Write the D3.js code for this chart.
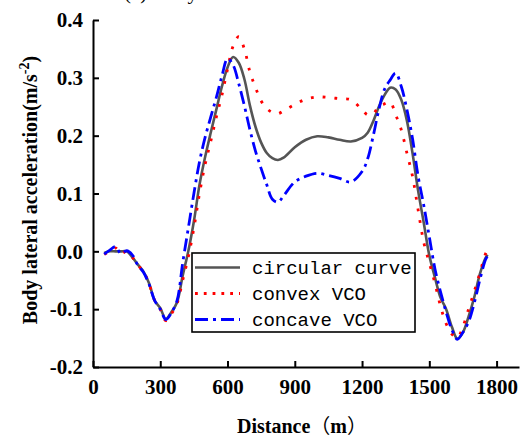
<!DOCTYPE html>
<html>
<head>
<meta charset="utf-8">
<script src="https://cdn.jsdelivr.net/npm/d3@7"></script>
<style>
  body { margin: 0; background: #fff; }
  svg { display: block; }
</style>
</head>
<body>
<svg></svg>
<script>
// Data
const distance = [50, 75, 100, 125, 150, 175, 200, 225, 250, 275, 300, 325, 350, 375, 400, 425, 450, 475, 500, 525, 550, 575, 600, 625, 650, 675, 700, 725, 750, 775, 800, 825, 850, 900, 950, 1000, 1050, 1100, 1150, 1200, 1225, 1250, 1275, 1300, 1325, 1350, 1375, 1400, 1425, 1450, 1475, 1500, 1525, 1550, 1575, 1600, 1625, 1650, 1675, 1700, 1725, 1750, 1760];

const circularCurve = [-0.003, 0.0, 0.0, 0.0, 0.0, -0.01, -0.023, -0.035, -0.055, -0.085, -0.098, -0.117, -0.105, -0.088, -0.042, 0.0, 0.052, 0.115, 0.163, 0.205, 0.245, 0.285, 0.318, 0.336, 0.326, 0.298, 0.252, 0.215, 0.188, 0.17, 0.161, 0.158, 0.162, 0.18, 0.193, 0.199, 0.197, 0.193, 0.19, 0.196, 0.205, 0.225, 0.25, 0.27, 0.283, 0.28, 0.262, 0.226, 0.17, 0.105, 0.05, -0.007, -0.045, -0.08, -0.1, -0.13, -0.151, -0.14, -0.113, -0.08, -0.04, -0.012, -0.006];

const convexVCO = [-0.005, 0.0, 0.006, -0.004, 0.0, -0.01, -0.024, -0.035, -0.056, -0.085, -0.1, -0.12, -0.108, -0.09, -0.05, -0.01, 0.04, 0.1, 0.15, 0.19, 0.232, 0.27, 0.315, 0.355, 0.371, 0.35, 0.31, 0.283, 0.26, 0.247, 0.24, 0.238, 0.243, 0.254, 0.263, 0.267, 0.266, 0.264, 0.262, 0.245, 0.236, 0.238, 0.251, 0.255, 0.258, 0.236, 0.21, 0.17, 0.13, 0.072, 0.016, -0.02, -0.055, -0.095, -0.125, -0.143, -0.149, -0.13, -0.1, -0.07, -0.038, -0.005, 0.003];

const concaveVCO = [-0.005, 0.002, 0.008, -0.004, 0.001, -0.006, -0.024, -0.036, -0.057, -0.085, -0.1, -0.118, -0.106, -0.085, -0.02, 0.04, 0.1, 0.155, 0.197, 0.232, 0.266, 0.303, 0.333, 0.322, 0.29, 0.252, 0.21, 0.173, 0.143, 0.115, 0.09, 0.085, 0.096, 0.12, 0.13, 0.135, 0.131, 0.126, 0.12, 0.138, 0.16, 0.2, 0.245, 0.28, 0.296, 0.308, 0.285, 0.245, 0.195, 0.13, 0.08, 0.025, -0.03, -0.07, -0.105, -0.135, -0.152, -0.14, -0.122, -0.09, -0.05, -0.015, -0.008];

const xTicks = [0, 300, 600, 900, 1200, 1500, 1800];
const yTicks = [-0.2, -0.1, 0.0, 0.1, 0.2, 0.3, 0.4];
const seriesNames = ["circular curve", "convex VCO", "concave VCO"];

// Setting the dimensions and margins of the graph
const margin = { top: 20, right: 12, bottom: 71, left: 93 },
  width = 531 - margin.left - margin.right,
  height = 438 - margin.top - margin.bottom;

const serif = "'Liberation Serif', 'Times New Roman', serif";

const root = d3.select("svg").attr("width", 531).attr("height", 438);

// Panel title, mostly cut off at the top edge (as in the reference)
root
  .append("text")
  .attr("x", 124)
  .attr("y", -1)
  .style("font-family", serif)
  .style("font-size", "21px")
  .text("(c) Body lateral acceleration");

const svg = root
  .append("g")
  .attr("transform", `translate(${margin.left},${margin.top})`);

const x = d3.scaleLinear().domain([0, 1900]).range([0, width]);
const y = d3.scaleLinear().domain([-0.2, 0.4]).range([height, 0]);

// X axis (ticks point inward)
const xAxis = svg
  .append("g")
  .attr("transform", `translate(0,${height})`)
  .call(d3.axisBottom(x).tickValues(xTicks).tickSize(-6).tickPadding(12).tickSizeOuter(0).tickFormat(d3.format("d")));

// Y axis
const yAxis = svg
  .append("g")
  .call(d3.axisLeft(y).tickValues(yTicks).tickSize(-6).tickPadding(10).tickSizeOuter(0).tickFormat((d) => d.toFixed(1)));

[xAxis, yAxis].forEach((a) => {
  a.select(".domain").attr("stroke", "#000").attr("stroke-width", 2);
  a.selectAll(".tick line").attr("stroke", "#000").attr("stroke-width", 2);
  a.selectAll(".tick text")
    .attr("fill", "#000")
    .style("font-family", serif)
    .style("font-size", "21px")
    .style("font-weight", "bold");
});

// Lines
const styles = [
  { values: circularCurve, color: "#555555", width: 2.6, dash: null },
  { values: convexVCO, color: "#ff0000", width: 2.8, dash: "2.8,9" },
  { values: concaveVCO, color: "#0000ff", width: 2.8, dash: "13,5,3,5" },
];

const line = d3
  .line()
  .x((d) => x(d[0]))
  .y((d) => y(d[1]))
  .curve(d3.curveCatmullRom.alpha(0.5));

styles.forEach((s) => {
  svg
    .append("path")
    .datum(distance.map((d, i) => [d, s.values[i]]))
    .attr("fill", "none")
    .attr("stroke", s.color)
    .attr("stroke-width", s.width)
    .attr("stroke-dasharray", s.dash)
    .attr("d", line);
});

// Legend
const legend = svg.append("g").attr("transform", `translate(${192 - margin.left},${253 - margin.top})`);
legend
  .append("rect")
  .attr("width", 223)
  .attr("height", 79)
  .attr("fill", "#fff")
  .attr("stroke", "#000")
  .attr("stroke-width", 1.6);

const legendDash = [null, "2.8,6", "13,5,3,5"];
seriesNames.forEach((name, i) => {
  const row = legend.append("g").attr("transform", `translate(0,${14.5 + i * 26})`);
  row
    .append("line")
    .attr("x1", 3)
    .attr("x2", 48)
    .attr("stroke", styles[i].color)
    .attr("stroke-width", styles[i].width)
    .attr("stroke-dasharray", legendDash[i]);
  row
    .append("text")
    .attr("x", 60)
    .attr("y", 6.5)
    .style("font-family", "'Liberation Mono', monospace")
    .style("font-size", "19px")
    .text(name);
});

// Axis titles
const xLabel = root
  .append("text")
  .attr("x", 302)
  .attr("y", 433)
  .attr("text-anchor", "middle")
  .style("font-family", serif)
  .style("font-weight", "bold")
  .style("font-size", "20px");
xLabel.append("tspan").text("Distance");
xLabel.append("tspan").style("font-family", "'Noto Sans CJK SC', sans-serif").style("font-weight", "normal").text("（");
xLabel.append("tspan").text("m");
xLabel.append("tspan").style("font-family", "'Noto Sans CJK SC', sans-serif").style("font-weight", "normal").text("）");

const yLabel = root
  .append("text")
  .attr("transform", "translate(37,190) rotate(-90)")
  .attr("text-anchor", "middle")
  .style("font-family", serif)
  .style("font-weight", "bold")
  .style("font-size", "20px");
yLabel.append("tspan").text("Body lateral acceleration(m/s");
yLabel.append("tspan").attr("dy", -8).style("font-size", "14px").text("-2");
yLabel.append("tspan").attr("dy", 8).text(")");
</script>
</body>
</html>
